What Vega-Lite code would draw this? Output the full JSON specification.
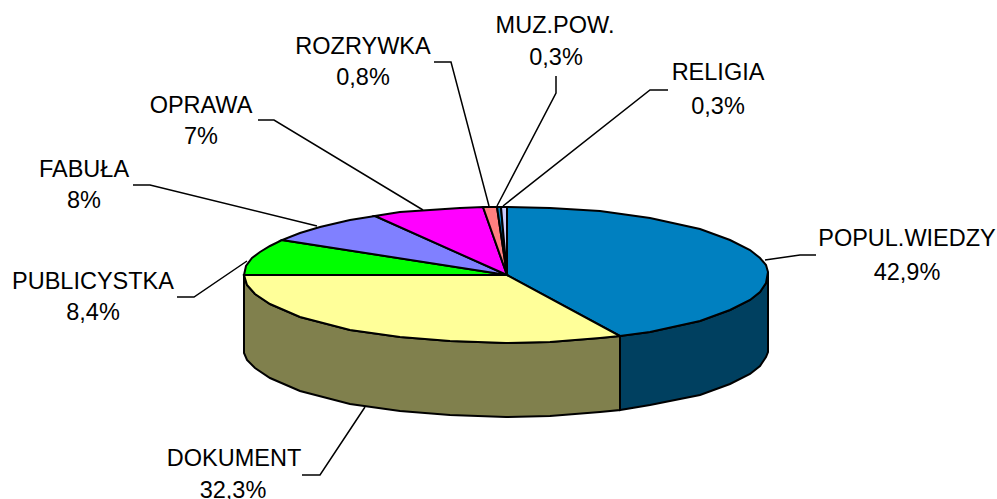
{"$schema":"https://vega.github.io/schema/vega-lite/v6.json","width":997,"height":499,"autosize":{"type":"none"},"padding":0,"background":"white","view":{"stroke":null},
"datasets":{
"faces":[
{"part":"DOKUMENT side","i":1,"x":244,"y":275},{"part":"DOKUMENT side","i":2,"x":247,"y":285},{"part":"DOKUMENT side","i":3,"x":255,"y":294},{"part":"DOKUMENT side","i":4,"x":270,"y":304},{"part":"DOKUMENT side","i":5,"x":300,"y":317},{"part":"DOKUMENT side","i":6,"x":350,"y":330},{"part":"DOKUMENT side","i":7,"x":400,"y":337},{"part":"DOKUMENT side","i":8,"x":450,"y":341},{"part":"DOKUMENT side","i":9,"x":506,"y":343},{"part":"DOKUMENT side","i":10,"x":550,"y":342},{"part":"DOKUMENT side","i":11,"x":600,"y":338},{"part":"DOKUMENT side","i":12,"x":620,"y":336},{"part":"DOKUMENT side","i":13,"x":620,"y":410},{"part":"DOKUMENT side","i":14,"x":600,"y":412},{"part":"DOKUMENT side","i":15,"x":550,"y":416},{"part":"DOKUMENT side","i":16,"x":506,"y":417},{"part":"DOKUMENT side","i":17,"x":450,"y":415},{"part":"DOKUMENT side","i":18,"x":400,"y":411},{"part":"DOKUMENT side","i":19,"x":350,"y":404},{"part":"DOKUMENT side","i":20,"x":300,"y":391},{"part":"DOKUMENT side","i":21,"x":270,"y":378},{"part":"DOKUMENT side","i":22,"x":255,"y":368},{"part":"DOKUMENT side","i":23,"x":247,"y":360},{"part":"DOKUMENT side","i":24,"x":244,"y":353},
{"part":"POPUL side","i":1,"x":620,"y":336},{"part":"POPUL side","i":2,"x":650,"y":332},{"part":"POPUL side","i":3,"x":700,"y":321},{"part":"POPUL side","i":4,"x":730,"y":310},{"part":"POPUL side","i":5,"x":750,"y":300},{"part":"POPUL side","i":6,"x":760,"y":292},{"part":"POPUL side","i":7,"x":766,"y":283},{"part":"POPUL side","i":8,"x":768,"y":272},{"part":"POPUL side","i":9,"x":768,"y":352},{"part":"POPUL side","i":10,"x":766,"y":357},{"part":"POPUL side","i":11,"x":760,"y":366},{"part":"POPUL side","i":12,"x":750,"y":374},{"part":"POPUL side","i":13,"x":730,"y":384},{"part":"POPUL side","i":14,"x":700,"y":395},{"part":"POPUL side","i":15,"x":650,"y":405},{"part":"POPUL side","i":16,"x":620,"y":410},
{"part":"POPUL.WIEDZY","i":1,"x":507,"y":275},{"part":"POPUL.WIEDZY","i":2,"x":507,"y":207},{"part":"POPUL.WIEDZY","i":3,"x":550,"y":208},{"part":"POPUL.WIEDZY","i":4,"x":600,"y":211},{"part":"POPUL.WIEDZY","i":5,"x":650,"y":218},{"part":"POPUL.WIEDZY","i":6,"x":700,"y":229},{"part":"POPUL.WIEDZY","i":7,"x":730,"y":240},{"part":"POPUL.WIEDZY","i":8,"x":750,"y":250},{"part":"POPUL.WIEDZY","i":9,"x":760,"y":258},{"part":"POPUL.WIEDZY","i":10,"x":766,"y":265},{"part":"POPUL.WIEDZY","i":11,"x":768,"y":272},{"part":"POPUL.WIEDZY","i":12,"x":766,"y":283},{"part":"POPUL.WIEDZY","i":13,"x":760,"y":292},{"part":"POPUL.WIEDZY","i":14,"x":750,"y":300},{"part":"POPUL.WIEDZY","i":15,"x":730,"y":310},{"part":"POPUL.WIEDZY","i":16,"x":700,"y":321},{"part":"POPUL.WIEDZY","i":17,"x":650,"y":332},{"part":"POPUL.WIEDZY","i":18,"x":620,"y":336},
{"part":"DOKUMENT","i":1,"x":507,"y":275},{"part":"DOKUMENT","i":2,"x":620,"y":336},{"part":"DOKUMENT","i":3,"x":600,"y":338},{"part":"DOKUMENT","i":4,"x":550,"y":342},{"part":"DOKUMENT","i":5,"x":506,"y":343},{"part":"DOKUMENT","i":6,"x":450,"y":341},{"part":"DOKUMENT","i":7,"x":400,"y":337},{"part":"DOKUMENT","i":8,"x":350,"y":330},{"part":"DOKUMENT","i":9,"x":300,"y":317},{"part":"DOKUMENT","i":10,"x":270,"y":304},{"part":"DOKUMENT","i":11,"x":255,"y":294},{"part":"DOKUMENT","i":12,"x":247,"y":285},{"part":"DOKUMENT","i":13,"x":244,"y":275},
{"part":"PUBLICYSTKA","i":1,"x":507,"y":275},{"part":"PUBLICYSTKA","i":2,"x":244,"y":275},{"part":"PUBLICYSTKA","i":3,"x":246,"y":266},{"part":"PUBLICYSTKA","i":4,"x":252,"y":258},{"part":"PUBLICYSTKA","i":5,"x":260,"y":252},{"part":"PUBLICYSTKA","i":6,"x":270,"y":246},{"part":"PUBLICYSTKA","i":7,"x":282,"y":240},
{"part":"FABUŁA","i":1,"x":507,"y":275},{"part":"FABUŁA","i":2,"x":282,"y":240},{"part":"FABUŁA","i":3,"x":300,"y":233},{"part":"FABUŁA","i":4,"x":320,"y":227},{"part":"FABUŁA","i":5,"x":350,"y":220},{"part":"FABUŁA","i":6,"x":375,"y":216},
{"part":"OPRAWA","i":1,"x":507,"y":275},{"part":"OPRAWA","i":2,"x":375,"y":216},{"part":"OPRAWA","i":3,"x":400,"y":212},{"part":"OPRAWA","i":4,"x":430,"y":210},{"part":"OPRAWA","i":5,"x":460,"y":208},{"part":"OPRAWA","i":6,"x":483,"y":207},
{"part":"ROZRYWKA","i":1,"x":507,"y":275},{"part":"ROZRYWKA","i":2,"x":483,"y":207},{"part":"ROZRYWKA","i":3,"x":497,"y":207},
{"part":"MUZ.POW.","i":1,"x":507,"y":275},{"part":"MUZ.POW.","i":2,"x":497,"y":207},{"part":"MUZ.POW.","i":3,"x":501,"y":207},
{"part":"RELIGIA","i":1,"x":507,"y":275},{"part":"RELIGIA","i":2,"x":501,"y":207},{"part":"RELIGIA","i":3,"x":507,"y":207}
],
"leaders":[
{"name":"POPUL.WIEDZY","i":1,"x":765,"y":260},{"name":"POPUL.WIEDZY","i":2,"x":800,"y":255},{"name":"POPUL.WIEDZY","i":3,"x":816,"y":255},
{"name":"DOKUMENT","i":1,"x":365,"y":407},{"name":"DOKUMENT","i":2,"x":320,"y":475},{"name":"DOKUMENT","i":3,"x":302,"y":475},
{"name":"PUBLICYSTKA","i":1,"x":247,"y":261},{"name":"PUBLICYSTKA","i":2,"x":194,"y":297},{"name":"PUBLICYSTKA","i":3,"x":177,"y":297},
{"name":"FABUŁA","i":1,"x":317,"y":226},{"name":"FABUŁA","i":2,"x":150,"y":185},{"name":"FABUŁA","i":3,"x":133,"y":185},
{"name":"OPRAWA","i":1,"x":423,"y":210},{"name":"OPRAWA","i":2,"x":274,"y":120},{"name":"OPRAWA","i":3,"x":258,"y":120},
{"name":"ROZRYWKA","i":1,"x":489,"y":206},{"name":"ROZRYWKA","i":2,"x":451,"y":62},{"name":"ROZRYWKA","i":3,"x":434,"y":62},
{"name":"MUZ.POW.","i":1,"x":497,"y":206},{"name":"MUZ.POW.","i":2,"x":556,"y":93},{"name":"MUZ.POW.","i":3,"x":556,"y":76},
{"name":"RELIGIA","i":1,"x":503,"y":206},{"name":"RELIGIA","i":2,"x":650,"y":90},{"name":"RELIGIA","i":3,"x":668,"y":90}
],
"labels":[
{"t":"POPUL.WIEDZY","x":907,"y":239},{"t":"42,9%","x":907,"y":273},
{"t":"MUZ.POW.","x":555,"y":26},{"t":"0,3%","x":556,"y":58},
{"t":"RELIGIA","x":718,"y":73},{"t":"0,3%","x":718,"y":107},
{"t":"ROZRYWKA","x":363,"y":46.5},{"t":"0,8%","x":363,"y":78},
{"t":"OPRAWA","x":201,"y":106},{"t":"7%","x":201,"y":137},
{"t":"FABUŁA","x":84,"y":169.5},{"t":"8%","x":84,"y":201},
{"t":"PUBLICYSTKA","x":93,"y":281.5},{"t":"8,4%","x":93,"y":313},
{"t":"DOKUMENT","x":234,"y":459},{"t":"32,3%","x":233,"y":491}
]},
"layer":[
{"data":{"name":"faces"},"mark":{"type":"line","interpolate":"linear-closed","stroke":"black","strokeWidth":2,"filled":true},
"encoding":{"x":{"field":"x","type":"quantitative","scale":{"domain":[0,997]},"axis":null},"y":{"field":"y","type":"quantitative","scale":{"domain":[499,0]},"axis":null},"order":{"field":"i"},
"fill":{"field":"part","type":"nominal","sort":null,"legend":null,"scale":{"domain":["DOKUMENT side","POPUL side","POPUL.WIEDZY","DOKUMENT","PUBLICYSTKA","FABUŁA","OPRAWA","ROZRYWKA","MUZ.POW.","RELIGIA"],"range":["#80804D","#004060","#0080C0","#FFFF99","#00FF00","#8080FF","#FF00FF","#FF8080","#0080C0","#CCCCFF"]}}}},
{"data":{"name":"leaders"},"mark":{"type":"line","stroke":"black","strokeWidth":1.5},
"encoding":{"x":{"field":"x","type":"quantitative","scale":{"domain":[0,997]},"axis":null},"y":{"field":"y","type":"quantitative","scale":{"domain":[499,0]},"axis":null},"order":{"field":"i"},"detail":{"field":"name"}}},
{"data":{"name":"labels"},"mark":{"type":"text","font":"Liberation Sans","fontSize":23.5,"align":"center","baseline":"middle","color":"black"},
"encoding":{"x":{"field":"x","type":"quantitative","scale":{"domain":[0,997]},"axis":null},"y":{"field":"y","type":"quantitative","scale":{"domain":[499,0]},"axis":null},"text":{"field":"t"}}}
]}
